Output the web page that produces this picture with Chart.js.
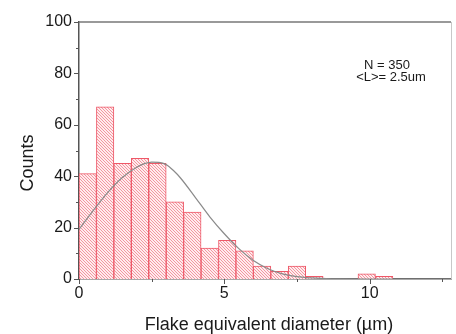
<!DOCTYPE html>
<html><head><meta charset="utf-8">
<script src="https://cdn.jsdelivr.net/npm/chart.js@4"></script>
<style>html,body{margin:0;padding:0;background:#fff}#wrap{width:456px;height:334px}</style>
</head><body><div id="wrap"><canvas id="c" width="456" height="334"></canvas></div>
<script>
// Histogram bins (centre of each 0.6 µm bin) and counts
const binCenters = [0.3,0.9,1.5,2.1,2.7,3.3,3.9,4.5,5.1,5.7,6.3,6.9,7.5,8.1,8.7,9.3,9.9,10.5];
const counts     = [41,67,45,47,45,30,26,12,15,11,5,3,5,1,0,0,2,1];
// Fitted curve
const fitX = [0,0.5,1,1.5,2,2.25,2.5,2.75,3,3.25,3.5,4,4.5,5,5.5,6,6.5,7,7.5,8,8.5,9,10,11,12,12.8];
const fitY = [19.3,26.8,33.8,39.6,43.6,44.9,45.5,45.4,44.5,42.2,39.2,31.8,24.2,17.6,11.8,7.2,4.0,2.0,0.9,0.4,0.15,0.05,0,0,0,0];
// Ticks
const xTicks = [0,5,10];
const xMinor = [2.5,7.5,12.5];
const yTicks = [0,20,40,60,80,100];
const yMinor = [10,30,50,70,90];
// Texts
const xTitle = 'Flake equivalent diameter (µm)';
const yTitle = 'Counts';
const notes = ['N = 350','<L>= 2.5um'];

const FONT = '"Liberation Sans", Arial, sans-serif';

function hatch(){
  const n=3;
  const p=document.createElement('canvas'); p.width=n; p.height=n;
  const g=p.getContext('2d');
  g.fillStyle='rgba(255,236,238,1)'; g.fillRect(0,0,n,n);
  g.strokeStyle='rgba(242,140,150,1)'; g.lineWidth=0.9;
  g.beginPath();
  g.moveTo(-1,-1); g.lineTo(n+1,n+1);
  g.moveTo(-1,n-1); g.lineTo(1,n+1);
  g.moveTo(n-1,-1); g.lineTo(n+1,1);
  g.stroke();
  return g.createPattern(p,'repeat');
}

const decor = {
  id:'decor',
  afterDraw(chart){
    const {ctx, chartArea:a, scales:{x,y}} = chart;
    ctx.save();
    ctx.strokeStyle='#777'; ctx.lineWidth=1.5;
    ctx.beginPath(); ctx.moveTo(a.left,a.top); ctx.lineTo(a.right,a.top); ctx.stroke();
    ctx.strokeStyle='#c8c8c8'; ctx.lineWidth=1;
    ctx.beginPath(); ctx.moveTo(a.right+0.5,a.top); ctx.lineTo(a.right+0.5,a.bottom); ctx.stroke();
    ctx.strokeStyle='#555'; ctx.lineWidth=1;
    ctx.beginPath();
    xTicks.forEach(v=>{const px=Math.round(x.getPixelForValue(v))+0.5; ctx.moveTo(px,a.bottom); ctx.lineTo(px,a.bottom+5);});
    xMinor.forEach(v=>{const px=Math.round(x.getPixelForValue(v))+0.5; ctx.moveTo(px,a.bottom); ctx.lineTo(px,a.bottom+3);});
    yTicks.forEach(v=>{const py=Math.round(y.getPixelForValue(v))+0.5; ctx.moveTo(a.left,py); ctx.lineTo(a.left-5,py);});
    yMinor.forEach(v=>{const py=Math.round(y.getPixelForValue(v))+0.5; ctx.moveTo(a.left,py); ctx.lineTo(a.left-3,py);});
    ctx.stroke();
    ctx.fillStyle='#1a1a1a';
    ctx.font='18px '+FONT;
    ctx.textAlign='center'; ctx.textBaseline='alphabetic';
    ctx.fillText(xTitle, 269, 330);
    ctx.save();
    ctx.translate(33, 163); ctx.rotate(-Math.PI/2);
    ctx.fillText(yTitle, 0, 0);
    ctx.restore();
    ctx.font='13px '+FONT;
    ctx.fillText(notes[0], 387, 68.5);
    ctx.fillText(notes[1], 391, 81);
    ctx.restore();
  }
};

new Chart(document.getElementById('c').getContext('2d'),{
  type:'bar',
  data:{datasets:[
    {type:'bar', data: binCenters.map((v,i)=>({x:v,y:counts[i]})),
     backgroundColor: hatch(), borderColor:'#ee5868', borderWidth:1,
     barPercentage:1, categoryPercentage:1, order:2},
    {type:'line', data: fitX.map((v,i)=>({x:v,y:fitY[i]})),
     borderColor:'#8a8a8a', borderWidth:1.2, pointRadius:0, fill:false,
     cubicInterpolationMode:'monotone', order:1}
  ]},
  options:{
    responsive:false, animation:false, devicePixelRatio:1,
    layout:{padding:{top:22,right:5,left:0,bottom:0}},
    plugins:{legend:{display:false},tooltip:{enabled:false}},
    scales:{
      x:{type:'linear', min:0, max:12.8, offset:false,
         afterBuildTicks:s=>{s.ticks=xTicks.map(v=>({value:v}));},
         afterFit:s=>{s.height=55;},
         grid:{display:false, drawTicks:true, tickLength:5, offset:false},
         border:{display:true,color:'#555',width:1.5},
         ticks:{color:'#1a1a1a', font:{family:FONT,size:16}, padding:0, maxRotation:0, autoSkip:false}},
      y:{type:'linear', min:0, max:100,
         afterBuildTicks:s=>{s.ticks=yTicks.map(v=>({value:v}));},
         afterFit:s=>{s.width=79;},
         grid:{display:false, drawTicks:true, tickLength:5},
         border:{display:true,color:'#555',width:1.5},
         ticks:{color:'#1a1a1a', font:{family:FONT,size:16}, padding:2}}
    }
  },
  plugins:[decor]
});
</script></body></html>
